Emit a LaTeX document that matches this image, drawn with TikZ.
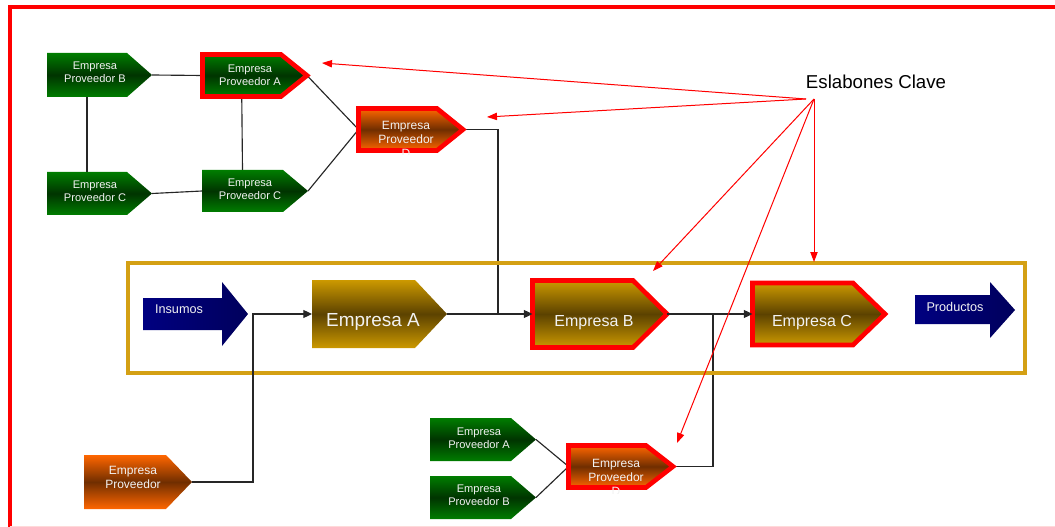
\documentclass[tikz,border=0pt]{standalone}
\usepackage{fontspec}
\setmainfont{Liberation Sans}
\usetikzlibrary{arrows.meta,fit}

\definecolor{grnT}{RGB}{0,125,0}
\definecolor{grnM}{RGB}{0,52,0}
\definecolor{gldT}{RGB}{204,153,0}
\definecolor{gldM}{RGB}{92,66,0}
\definecolor{orgT}{RGB}{255,102,0}
\definecolor{orgM}{RGB}{112,46,0}
\definecolor{navyL}{RGB}{0,0,128}
\definecolor{navyD}{RGB}{0,0,92}
\definecolor{frameGold}{RGB}{212,160,20}
\definecolor{lblWhite}{RGB}{242,242,242}

\pgfdeclarelayer{bg}
\pgfsetlayers{bg,main}

\tikzset{
  green fill/.style={top color=grnT, bottom color=grnT, middle color=grnM},
  gold fill/.style={top color=gldT, bottom color=gldT, middle color=gldM},
  orange fill/.style={top color=orgT, bottom color=orgT, middle color=orgM},
  navy fill/.style={left color=navyL, right color=navyD},
  key border/.style={draw=red, line width=3.5pt, line join=miter},
  small lbl/.style={text=lblWhite, align=center, inner sep=0pt,
    font=\fontsize{8.3}{9.8}\selectfont},
  mid lbl/.style={text=lblWhite, align=center, inner sep=0pt,
    font=\fontsize{9}{10.5}\selectfont},
  big lbl/.style={text=lblWhite, inner sep=0pt, font=\fontsize{12}{14}\selectfont},
  arrow lbl/.style={text=lblWhite, inner sep=0pt, font=\fontsize{9.5}{11}\selectfont},
  link/.style={draw=black!85, line width=0.85pt},
  flow/.style={link, -{Triangle[length=6.5pt,width=6pt]}},
  keylink/.style={draw=red, line width=0.75pt, -{Triangle[length=7.5pt,width=5.5pt]}},
}

% chevron body: name, fill style, x left, x chamfer, x tip, y top, y bottom
\newcommand\chevron[7]{%
  \path[#2] (#3,#6) -- (#4,#6) -- (#5,{(#6+#7)/2}) -- (#4,#7) -- (#3,#7) -- cycle;
  \node[inner sep=0pt, outer sep=0pt, fit={(#3,#6) (#5,#7)}] (#1) {};
  \coordinate (#1-top) at ({(#3+#4)/2},#6);
  \coordinate (#1-bot) at ({(#3+#4)/2},#7);
}

\begin{document}
\begin{tikzpicture}[x=0.75pt, y=-0.75pt]
\useasboundingbox (0,0) rectangle (1055,527);
\clip (0,0) rectangle (1055,527);

% outer frame
\draw[red, line width=2.6pt] (10,560) -- (10,7) -- (1080,7);
\draw[red!15, line width=1.5pt] (10,526.5) -- (1060,526.5);

% supply-chain band
\draw[frameGold, line width=2.6pt] (128,263) rectangle (1025,373);

% upper supplier cluster
\chevron{gB}{green fill}{47}{127}{152}{53}{97}
\chevron{gC1}{green fill}{47}{127}{152}{172}{215}
\chevron{pA}{green fill, key border}{202.5}{281}{307}{54.5}{96.5}
\chevron{gC2}{green fill}{202}{283}{308}{170}{212}
\chevron{pD}{orange fill, key border}{358.5}{437}{463}{108.5}{150.5}

\node[small lbl] (gB-txt) at (95,72.5) {Empresa\\Proveedor B};
\node[small lbl] (gC1-txt) at (95,191.5) {Empresa\\Proveedor C};
\node[small lbl] (pA-txt) at (250,75.5) {Empresa\\Proveedor A};
\node[small lbl] (gC2-txt) at (250,189) {Empresa\\Proveedor C};
\begin{scope}
  \clip (350,100) rectangle (480,155);
  \node[mid lbl] (pD-txt) at (406,139) {Empresa\\Proveedor\\D};
\end{scope}

% main chain
\path[navy fill] (143,298) -- (222,298) -- (222,282) -- (248,314) -- (222,346)
  -- (222,330) -- (143,330) -- cycle;
\node[arrow lbl] (ins) at (179,309) {Insumos};

\chevron{eA}{gold fill}{312}{415}{447}{280}{348}
\chevron{eB}{gold fill, key border}{532.5}{633}{667}{280.5}{347.5}
\chevron{eC}{gold fill, key border}{752.5}{853}{885}{283}{345}
\node[text=lblWhite, inner sep=0pt, font=\fontsize{14.2}{16}\selectfont] (eA-txt) at (373,322) {Empresa A};
\node[big lbl] (eB-txt) at (594,323) {Empresa B};
\node[big lbl] (eC-txt) at (812,323) {Empresa C};

\path[navy fill] (915,295) -- (990,295) -- (990,282) -- (1015,310) -- (990,338)
  -- (990,324) -- (915,324) -- cycle;
\node[arrow lbl] (prod) at (955,307) {Productos};

% lower suppliers
\chevron{oP}{orange fill}{84}{166}{192}{455}{509}
\node[mid lbl] (oP-txt) at (133,477.5) {Empresa\\Proveedor};

\chevron{lgA}{green fill}{430}{511}{536}{418}{461}
\chevron{lgB}{green fill}{430}{511}{536}{476}{519}
\chevron{lD}{orange fill, key border}{568.5}{646}{673}{445.5}{487.5}
\node[small lbl] (lgA-txt) at (479,438) {Empresa\\Proveedor A};
\node[small lbl] (lgB-txt) at (479,495.5) {Empresa\\Proveedor B};
\begin{scope}
  \clip (560,440) rectangle (690,493);
  \node[mid lbl] (lD-txt) at (616,477) {Empresa\\Proveedor\\D};
\end{scope}

% junction points
\coordinate (ja) at (253,314);
\coordinate (jb) at (498,314);
\coordinate (jc) at (713,314);

\begin{pgfonlayer}{bg}
  \draw[link] (gB.east) -- (pA.west);
  \draw[link] (gB-bot) -- (gC1-top);
  \draw[link] (pA-bot) -- (gC2-top);
  \draw[link] (gC1.east) -- (gC2.west);
  \draw[link] (pA.east) -- (pD.west);
  \draw[link] (gC2.east) -- (pD.west);
  \draw[link] (pD.east) -| (jb);
  \draw[link] (lgA.east) -- (lD.west);
  \draw[link] (lgB.east) -- (lD.west);
  \draw[link] (lD.east) -| (jc);
\end{pgfonlayer}
\draw[flow] (oP.east) -| (ja) -- (eA.west);
\draw[flow] (eA.east) -- (eB.west);
\draw[flow] (eB.east) -- (eC.west);

% key links
\node[inner sep=0pt, font=\fontsize{14}{16}\selectfont] (esl) at (876,82) {Eslabones Clave};
\coordinate (s1) at (806,99);
\coordinate (s2) at (814,99);
\coordinate (kA) at (322,63);
\coordinate (kD) at (487,117);
\coordinate (kB) at (653,271);
\coordinate (kL) at (677,443);
\coordinate (kC) at (814,262);
\draw[keylink] (s1) -- (kA);
\draw[keylink] (s1) -- (kD);
\draw[keylink] (s2) -- (kB);
\draw[keylink] (s2) -- (kL);
\draw[keylink] (s2) -- (kC);
\end{tikzpicture}
\end{document}
